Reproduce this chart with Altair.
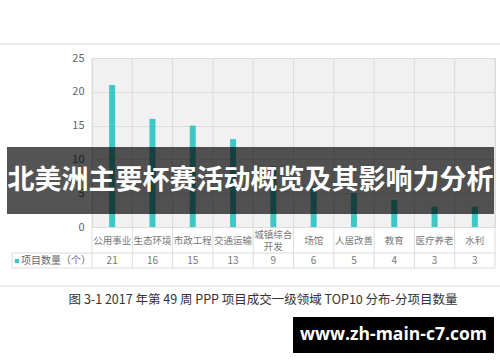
import altair as alt
import pandas as pd

categories = ["公用事业", "生态环境", "市政工程", "交通运输", "城镇综合开发", "场馆", "人居改善", "教育", "医疗养老", "水利"]
label_lines = [["公用事业"], ["生态环境"], ["市政工程"], ["交通运输"], ["城镇综合", "开发"], ["场馆"], ["人居改善"], ["教育"], ["医疗养老"], ["水利"]]
counts = [21, 16, 15, 13, 9, 6, 5, 4, 3, 3]
y_ticks = [0, 5, 10, 15, 20, 25]
series_name = "项目数量（个）"
caption = "图 3-1 2017 年第 49 周 PPP 项目成交一级领域 TOP10 分布-分项目数量"
banner = "北美洲主要杯赛活动概览及其影响力分析"
watermark = "www.zh-main-c7.com"

df = pd.DataFrame({"cat": categories, "value": counts, "lines": label_lines})

TEAL = "#3cc9c6"
GRID = "#dcdcdc"
FONT = "Noto Sans CJK SC"
W, H = 403, 169

xenc = alt.X("cat:N", sort=categories,
             scale=alt.Scale(paddingInner=0, paddingOuter=0),
             axis=alt.Axis(labels=False, ticks=False, domain=False, grid=False, title=None))

base = alt.Chart(df)

bars = base.mark_bar(size=6, color=TEAL).encode(
    x=xenc,
    y=alt.Y("value:Q", scale=alt.Scale(domain=[0, 25]),
            axis=alt.Axis(values=y_ticks, ticks=False, domain=False, gridColor=GRID,
                          labelColor="#666", labelFontSize=11, labelPadding=8,
                          labelFont=FONT, title=None)),
)

cat_single = base.transform_filter("length(datum.lines) == 1").mark_text(
    baseline="middle", fontSize=9.5, color="#777", font=FONT).encode(
    x=alt.X("cat:N", sort=categories), y=alt.value(183), text="lines:N")
cat_multi = base.transform_filter("length(datum.lines) > 1").mark_text(
    baseline="middle", lineHeight=12, fontSize=9.5, color="#777", font=FONT).encode(
    x=alt.X("cat:N", sort=categories), y=alt.value(177), text="lines:N")

val_labels = base.mark_text(baseline="middle", fontSize=10, color="#777", font=FONT).encode(
    x=alt.X("cat:N", sort=categories), y=alt.value(203), text="value:Q")

vrules = base.mark_rule(color=GRID).encode(
    x=alt.X("cat:N", sort=categories, bandPosition=0), y=alt.value(0), y2=alt.value(210))

one = alt.Chart(alt.Data(values=[{}]))

right_rule = one.mark_rule(color=GRID).encode(x=alt.value(W), y=alt.value(0), y2=alt.value(210))
left_rule = one.mark_rule(color=GRID).encode(x=alt.value(-80), y=alt.value(195), y2=alt.value(210))
h1 = one.mark_rule(color=GRID).encode(x=alt.value(-80), x2=alt.value(W), y=alt.value(195))
h2 = one.mark_rule(color=GRID).encode(x=alt.value(-80), x2=alt.value(W), y=alt.value(210))
top_line = one.mark_rule(color="#e4e4e4", strokeWidth=1.5).encode(x=alt.value(-92), x2=alt.value(408), y=alt.value(-14))
mid_line = one.mark_rule(color="#e8e8e8", strokeWidth=1.5).encode(x=alt.value(-92), x2=alt.value(408), y=alt.value(228))

legend_sq = one.mark_square(color=TEAL, size=18, opacity=1).encode(x=alt.value(-75), y=alt.value(203))
legend_txt = one.mark_text(align="left", baseline="middle", fontSize=10, color="#666", font=FONT).encode(
    x=alt.value(-71), y=alt.value(203), text=alt.value(series_name))

cap = one.mark_text(align="center", baseline="middle", fontSize=12.5, color="#333", font=FONT).encode(
    x=alt.value(171), y=alt.value(242), text=alt.value(caption))

banner_rect = one.mark_rect(color="#000", opacity=0.67).encode(
    x=alt.value(-85), x2=alt.value(402), y=alt.value(89), y2=alt.value(156))
banner_txt = one.mark_text(align="center", baseline="middle", fontSize=27, fontWeight="bold",
                           color="white", font=FONT).encode(
    x=alt.value(158.5), y=alt.value(123), text=alt.value(banner))

wm_rect = one.mark_rect(color="#000").encode(
    x=alt.value(201), x2=alt.value(402), y=alt.value(259), y2=alt.value(295))
wm_txt = one.mark_text(align="center", baseline="middle", fontSize=17.5, fontWeight="bold",
                       color="white", font="Open Sans").encode(
    x=alt.value(301.5), y=alt.value(277), text=alt.value(watermark))

chart = alt.layer(
    bars, vrules, right_rule, left_rule, h1, h2, cat_single, cat_multi, val_labels,
    legend_sq, legend_txt, top_line, mid_line, cap,
    banner_rect, banner_txt, wm_rect, wm_txt,
).properties(
    width=W, height=H,
    autosize=alt.AutoSizeParams(type="none"),
    padding={"left": 92, "top": 58, "right": 5, "bottom": 135},
    background="white",
).configure_view(stroke=GRID, fill="#f1f1f1")

chart.save("out.html", embed_options={"renderer": "svg", "actions": False})
